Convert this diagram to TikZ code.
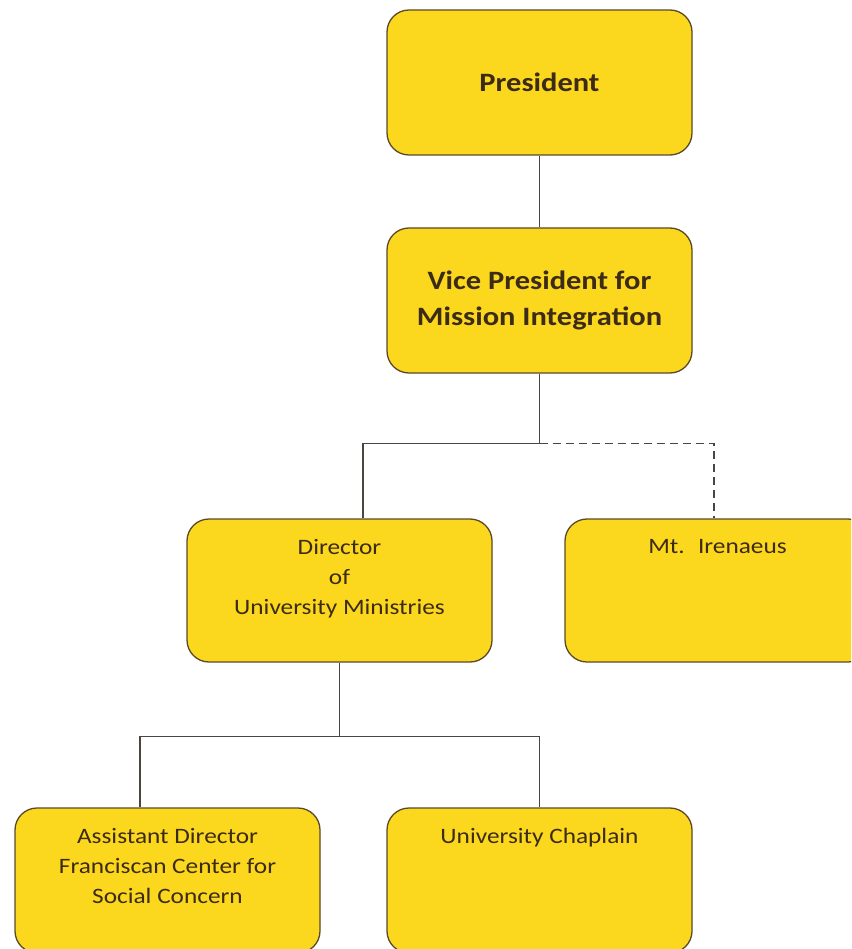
\documentclass[tikz,border=0pt]{standalone}
\usepackage{fontspec}
\setmainfont{Carlito}[FakeStretch=1.15]
\usetikzlibrary{positioning,calc}

\definecolor{boxfill}{HTML}{FBD71E}
\definecolor{boxline}{HTML}{5A4A2A}
\definecolor{boxtext}{HTML}{3C2B16}
\definecolor{linkcol}{HTML}{4A4540}

\tikzset{
  box/.style={draw=boxline, line width=1.3pt, fill=boxfill, rounded corners=22pt,
    minimum width=305pt, minimum height=145pt, inner sep=0pt},
  boldtxt/.style={text=boxtext, font=\bfseries\fontsize{26.5}{36}\selectfont, align=center},
  plaintxt/.style={text=boxtext, font=\fontsize{22}{30}\selectfont, align=center, inner sep=0pt},
  link/.style={draw=linkcol, line width=1.2pt},
  dottedlink/.style={link, dash pattern=on 8pt off 5pt}
}

\begin{document}
\begin{tikzpicture}[x=1pt,y=-1pt]
\useasboundingbox (0,0) rectangle (851,949);
\clip (0,0) rectangle (851,949);

% boxes
\node[box, boldtxt] (pres) at (539.5,82.5) {President};
\node[box, boldtxt] (vp) at (539.5,300.5) {Vice President for\\Mission Integration};
\node[box, minimum height=143pt] (dir) at (339.5,590.5) {};
\node[box, minimum height=143pt] (mti) at (717.5,590.5) {};
\node[box] (asst) at (167.5,880.5) {};
\node[box] (chap) at (539.5,880.5) {};

% texts near the top of the boxes
\node[plaintxt, below=21pt of dir.north] (dirtxt) {Director\\of\\University Ministries};
\node[plaintxt, below=21pt of mti.north] (mtitxt) {Mt.~ Irenaeus};
\node[plaintxt, below=21pt of asst.north] (assttxt) {Assistant Director\\Franciscan Center for\\Social Concern};
\node[plaintxt, below=21pt of chap.north] (chaptxt) {University Chaplain};

% connectors
\draw[link] (pres.south) -- (vp.north);
\draw[link] (vp.south) -- ++(0,70) coordinate (vpjoin) -| ([xshift=23.5pt]dir.north);
\draw[dottedlink] (vpjoin) -| ([xshift=-3.5pt]mti.north);
\draw[link] (dir.south) -- ++(0,74) coordinate (dirjoin);
\draw[link] (dirjoin) -| ([xshift=-27.5pt]asst.north);
\draw[link] (dirjoin) -| (chap.north);
\end{tikzpicture}
\end{document}
